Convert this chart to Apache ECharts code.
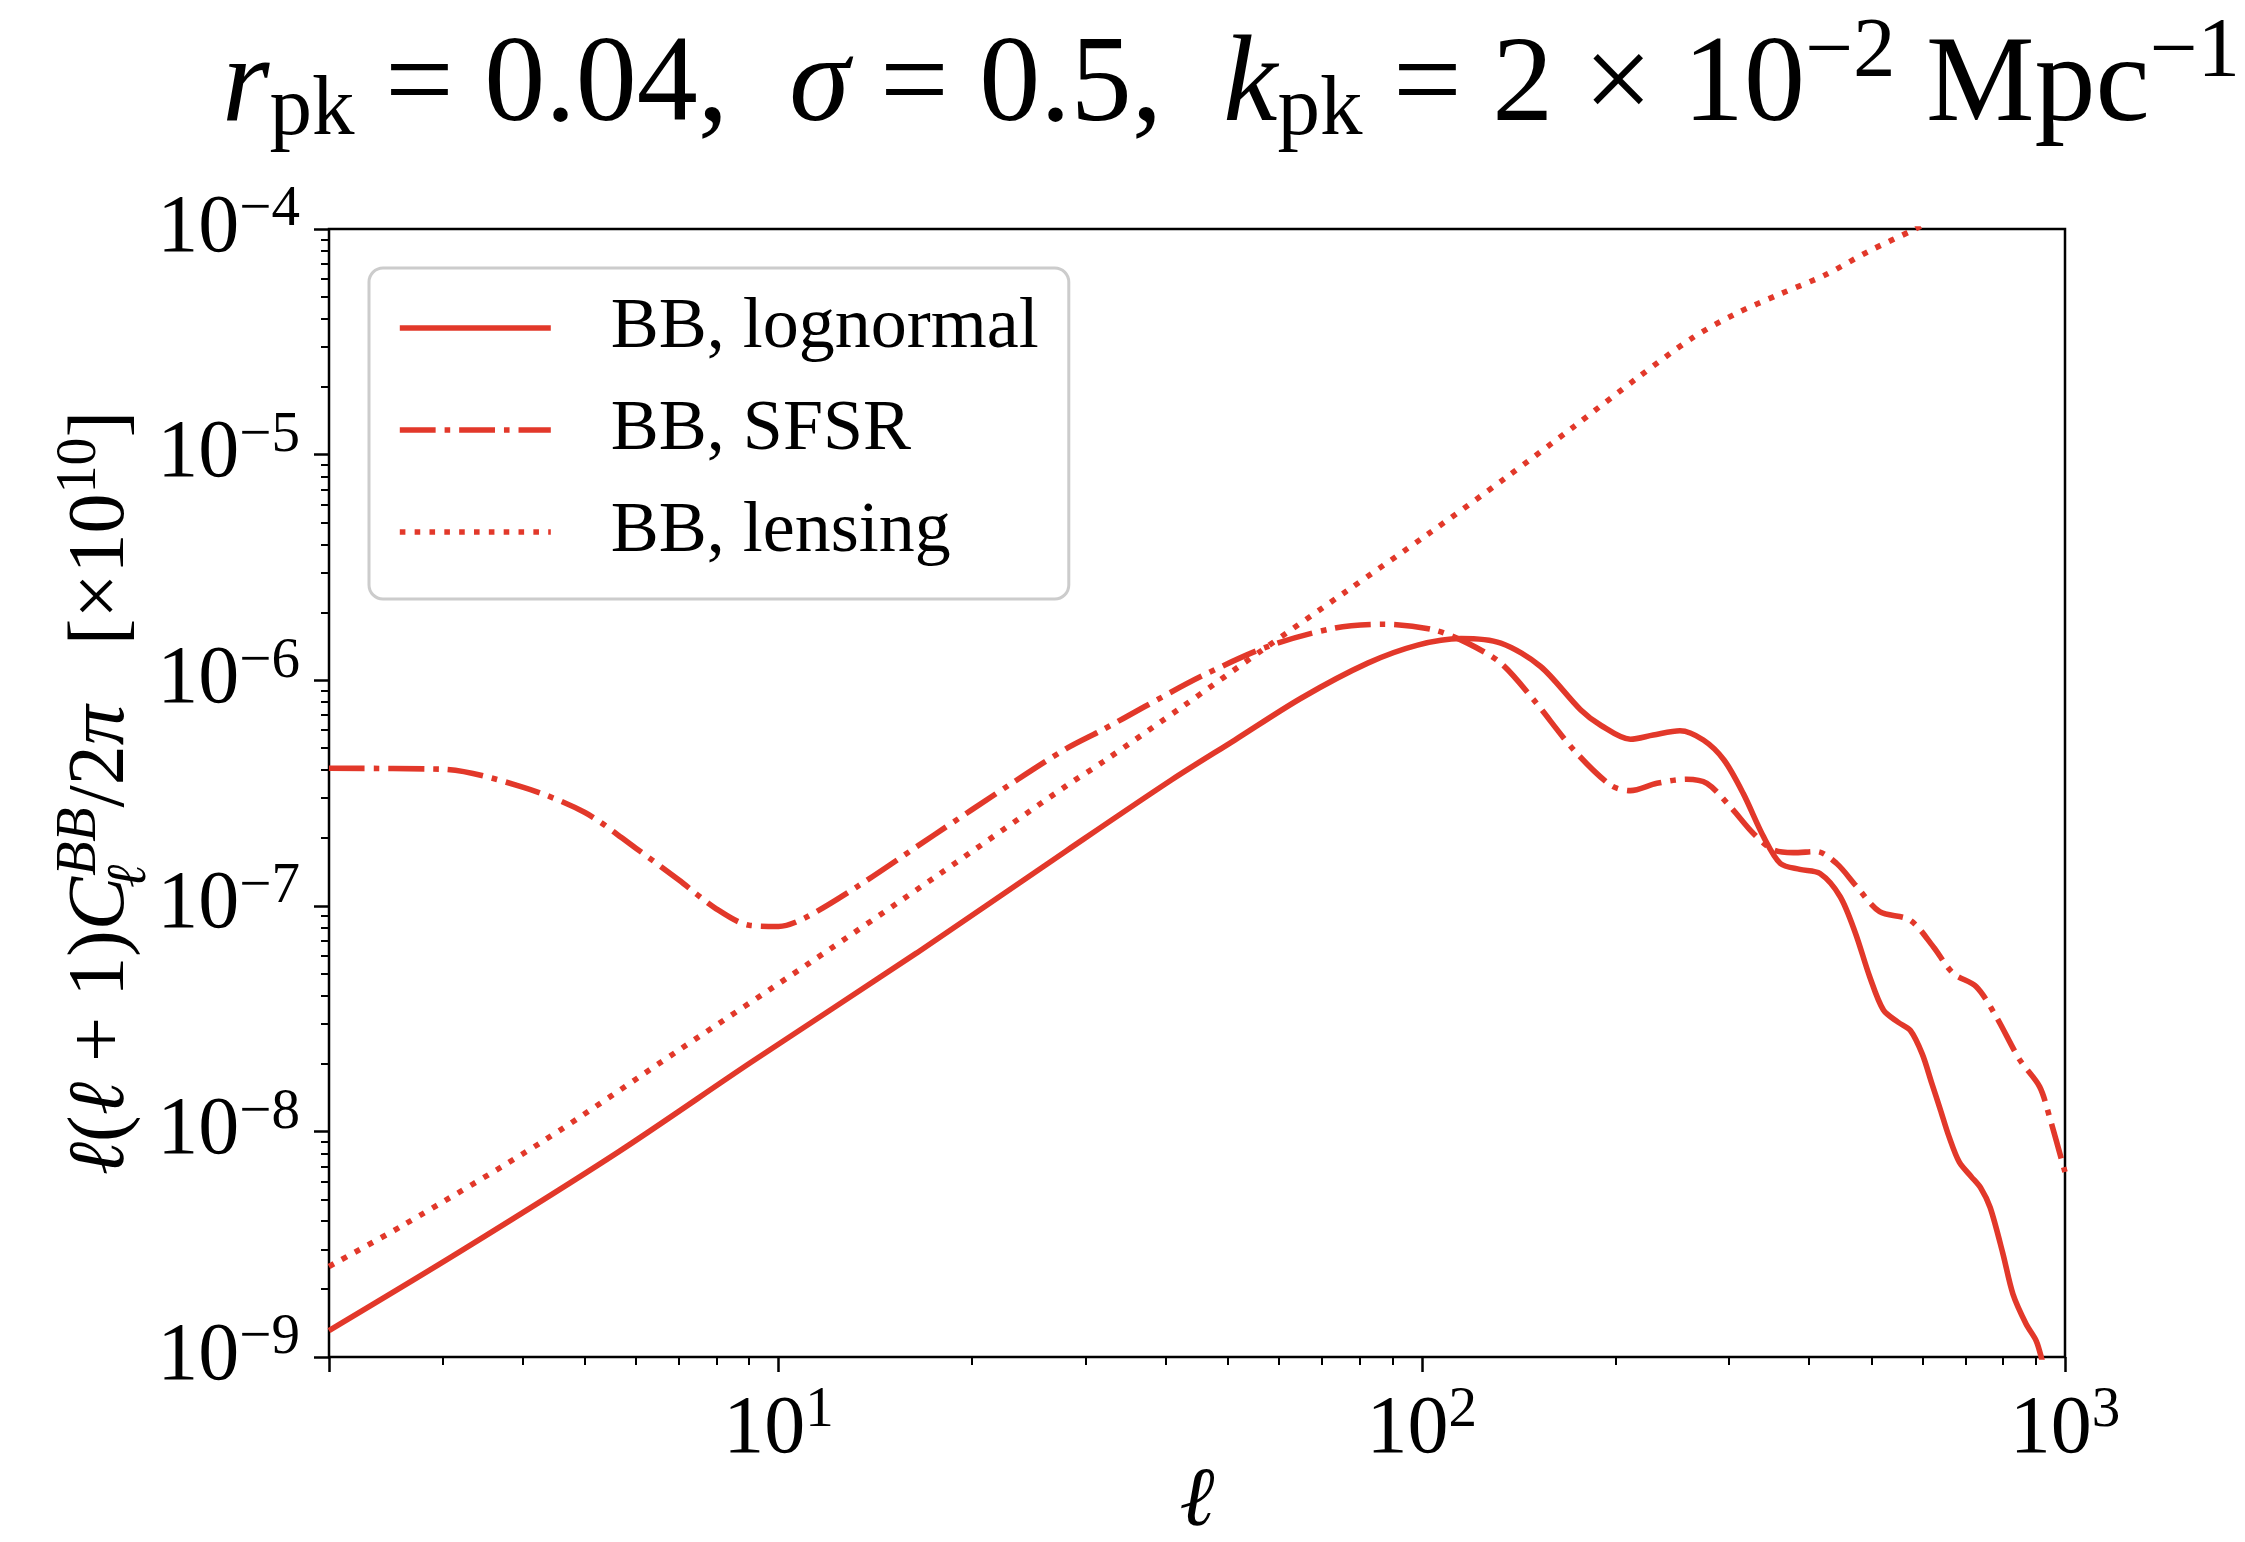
<!DOCTYPE html>
<html>
<head>
<meta charset="utf-8">
<script src="https://cdn.jsdelivr.net/npm/echarts@6/dist/echarts.min.js"></script>
<style>
  html, body { margin: 0; padding: 0; background: #ffffff; }
  #chart { width: 2245px; height: 1542px; }
</style>
</head>
<body>
<div id="chart"></div>
<script>
// B-mode band powers l(l+1)C_l^BB/2pi [x1e10] versus multipole l

const seriesNames = ['BB, lognormal', 'BB, SFSR', 'BB, lensing'];

// lognormal-peaked tensor spectrum
const ellLognormal = [2, 3.2, 5.63, 9.05, 16.4, 28, 40.8, 51.2, 64.9, 82.4, 98.5, 115, 132.7, 153, 176.5,
  190, 211, 229, 252, 274, 295, 316, 340, 361, 387, 416, 447, 472, 497, 522, 550, 575, 600,
  620, 640, 660, 685, 715, 740, 765, 800, 830, 870, 902, 920, 940];
const bbLognormal = [1.31e-9, 2.94e-9, 8.1e-9, 2.02e-8, 6.18e-8, 1.75e-7, 3.61e-7, 5.43e-7, 8.32e-7, 1.19e-6, 1.43e-6, 1.53e-6, 1.46e-6, 1.15e-6, 7.4e-7,
  6.3e-7, 5.47e-7, 5.71e-7, 5.97e-7, 5.43e-7, 4.43e-7, 3.15e-7, 2.02e-7, 1.54e-7, 1.45e-7, 1.39e-7, 1.10e-7, 7.6e-8, 4.85e-8, 3.45e-8, 3.05e-8, 2.8e-8, 2.2e-8,
  1.65e-8, 1.25e-8, 9.5e-9, 7.3e-9, 6.3e-9, 5.6e-9, 4.6e-9, 2.9e-9, 1.9e-9, 1.4e-9, 1.18e-9, 9.8e-10, 7.5e-10];

// SFSR spectrum
const ellSFSR = [2, 3, 4, 5, 6, 7, 8, 9, 10, 11, 13.27, 17.4, 22.9, 28, 31.8, 37.1, 45.4, 57.6, 73.1, 87.4,
  104.5, 117.8, 132.7, 149.4, 172.3, 196.5, 211, 232, 258, 277.5, 301.7, 327.8, 352, 378, 411, 441.6,
  474, 515, 574, 624, 670, 728, 782, 850, 913, 946, 1000];
const bbSFSR = [4.07e-7, 4.03e-7, 3.36e-7, 2.59e-7, 1.8e-7, 1.3e-7, 9.7e-8, 8.2e-8, 8.1e-8, 8.85e-8, 1.22e-7, 2.05e-7, 3.45e-7, 4.97e-7, 6.0e-7, 7.64e-7, 1.04e-6, 1.41e-6, 1.70e-6, 1.77e-6,
  1.67e-6, 1.46e-6, 1.19e-6, 8.16e-7, 4.91e-7, 3.43e-7, 3.24e-7, 3.49e-7, 3.64e-7, 3.49e-7, 2.75e-7, 2.09e-7, 1.77e-7, 1.72e-7, 1.74e-7, 1.54e-7,
  1.22e-7, 9.42e-8, 8.65e-8, 6.59e-8, 5.02e-8, 4.38e-8, 3.22e-8, 2.08e-8, 1.58e-8, 1.16e-8, 6.6e-9];

// lensing B modes
const ellLensing = [2, 2.6, 4.29, 7.01, 11.16, 17.77, 28, 31.96, 42.8, 56.9, 76.2, 102.1, 135.8, 172.3,
  217.4, 263, 307, 360.6, 423.5, 496.2, 580.6, 650];
const bbLensing = [2.52e-9, 3.82e-9, 9.0e-9, 2.30e-8, 5.57e-8, 1.38e-7, 3.4e-7, 4.35e-7, 7.76e-7, 1.38e-6, 2.47e-6, 4.43e-6, 7.98e-6, 1.33e-5,
  2.21e-5, 3.28e-5, 4.2e-5, 5.15e-5, 6.25e-5, 7.99e-5, 9.9e-5, 1.17e-4];

// decades carrying a tick label
const xTickPowers = [1, 2, 3];
const yTickPowers = [-9, -8, -7, -6, -5, -4];

const RED = '#e2382a';
const SERIF = "'Liberation Serif', 'DejaVu Serif', serif";
const MINUS = '\u2212';
const LW = 5.6;

const toPairs = (ells, vals) => ells.map((l, i) => [l, vals[i]]);

function powerLabel(value, powers) {
  const e = Math.round(Math.log10(value));
  if (Math.abs(value / Math.pow(10, e) - 1) > 1e-6 || powers.indexOf(e) < 0) return '';
  const exp = e < 0 ? MINUS + Math.abs(e) : String(e);
  return '{b|10}{sup|' + exp + '}';
}

const tickRich = {
  b: { fontFamily: SERIF, fontSize: 82, lineHeight: 82, color: '#000' },
  sup: { fontFamily: SERIF, fontSize: 57, lineHeight: 57, color: '#000', padding: [0, 0, 37, 0] }
};

const chart = echarts.init(document.getElementById('chart'), null, { renderer: 'canvas' });

const option = {
  backgroundColor: '#ffffff',
  animation: false,
  title: {
    text: '{i|r}{sub|pk}{n| = 0.04,  }{i|σ}{n| = 0.5,  }{i|k}{sub|pk}{n| = 2 × 10}{sup|' + MINUS + '2}{n| Mpc}{sup|' + MINUS + '1}',
    left: 222,
    top: 27,
    padding: 0,
    textStyle: {
      fontFamily: SERIF,
      fontSize: 122,
      fontWeight: 'normal',
      color: '#000',
      rich: {
        n: { fontFamily: SERIF, fontSize: 122, lineHeight: 122, color: '#000' },
        i: { fontFamily: SERIF, fontSize: 122, lineHeight: 122, fontStyle: 'italic', color: '#000' },
        sub: { fontFamily: SERIF, fontSize: 85, lineHeight: 85, color: '#000', padding: [47, 0, 0, 0] },
        sup: { fontFamily: SERIF, fontSize: 85, lineHeight: 85, color: '#000', padding: [0, 0, 69, 0] }
      }
    }
  },
  legend: {
    orient: 'vertical',
    left: 369,
    top: 268,
    data: seriesNames,
    itemWidth: 151,
    itemHeight: 20,
    itemGap: 22,
    padding: [20, 30, 27, 28],
    backgroundColor: 'rgba(255,255,255,0.8)',
    borderColor: '#cccccc',
    borderWidth: 3,
    borderRadius: 14,
    lineStyle: { width: LW },
    itemStyle: { color: 'rgba(0,0,0,0)', borderColor: 'rgba(0,0,0,0)', borderWidth: 0 },
    textStyle: {
      fontFamily: SERIF,
      fontSize: 72,
      lineHeight: 80,
      color: '#000',
      padding: [0, 0, 0, 55]
    }
  },
  grid: {
    left: 329,
    right: 180,
    top: 229,
    bottom: 185,
    containLabel: false,
    outerBoundsMode: 'none',
    show: true,
    borderColor: '#000',
    borderWidth: 2.5,
    backgroundColor: 'transparent'
  },
  xAxis: {
    type: 'log',
    logBase: 10,
    min: 2,
    max: 1000,
    name: 'ℓ',
    nameLocation: 'middle',
    nameGap: 104,
    nameMoveOverlap: false,
    nameTextStyle: { fontFamily: SERIF, fontSize: 84, lineHeight: 84, fontStyle: 'italic', color: '#000' },
    axisLine: { show: false },
    splitLine: { show: false },
    axisTick: { show: true, length: 15, lineStyle: { color: '#000', width: 2.5 } },
    minorTick: { show: true, splitNumber: 9, length: 8, lineStyle: { color: '#000', width: 2 } },
    axisLabel: {
      margin: 32,
      showMinLabel: true,
      showMaxLabel: true,
      hideOverlap: false,
      formatter: v => powerLabel(v, xTickPowers),
      rich: tickRich
    }
  },
  yAxis: {
    type: 'log',
    logBase: 10,
    min: 1e-9,
    max: 1e-4,
    name: '{i|ℓ}{n|(}{i|ℓ}{n| + 1)}{i|C}{sub|ℓ}{sup|BB}{n|/2}{i|π}{n|   [×10}{supn|10}{n|]}',
    nameLocation: 'middle',
    nameRotate: 90,
    nameGap: 187,
    nameMoveOverlap: false,
    nameTextStyle: {
      rich: {
        n: { fontFamily: SERIF, fontSize: 80, lineHeight: 80, color: '#000' },
        i: { fontFamily: SERIF, fontSize: 80, lineHeight: 80, fontStyle: 'italic', color: '#000' },
        sub: { fontFamily: SERIF, fontSize: 56, lineHeight: 56, fontStyle: 'italic', color: '#000', width: 1, padding: [56, 0, 0, 0] },
        sup: { fontFamily: SERIF, fontSize: 56, lineHeight: 56, fontStyle: 'italic', color: '#000', padding: [0, 0, 44, 0] },
        supn: { fontFamily: SERIF, fontSize: 56, lineHeight: 56, color: '#000', padding: [0, 0, 44, 0] }
      }
    },
    axisLine: { show: false },
    splitLine: { show: false },
    axisTick: { show: true, length: 15, lineStyle: { color: '#000', width: 2.5 } },
    minorTick: { show: true, splitNumber: 9, length: 8, lineStyle: { color: '#000', width: 2 } },
    axisLabel: {
      margin: 29,
      showMinLabel: true,
      showMaxLabel: true,
      hideOverlap: false,
      formatter: v => powerLabel(v, yTickPowers),
      rich: tickRich
    }
  },
  series: [
    {
      name: seriesNames[0],
      type: 'line',
      data: toPairs(ellLognormal, bbLognormal),
      symbol: 'none',
      smooth: 0.3,
      clip: true,
      lineStyle: { color: RED, width: LW, type: 'solid', cap: 'butt' },
      itemStyle: { color: RED }
    },
    {
      name: seriesNames[1],
      type: 'line',
      data: toPairs(ellSFSR, bbSFSR),
      symbol: 'none',
      smooth: 0.3,
      clip: true,
      lineStyle: { color: RED, width: LW, type: [6.4 * LW, 1.6 * LW, LW, 1.6 * LW], cap: 'butt' },
      itemStyle: { color: RED }
    },
    {
      name: seriesNames[2],
      type: 'line',
      data: toPairs(ellLensing, bbLensing),
      symbol: 'none',
      smooth: 0.3,
      clip: true,
      lineStyle: { color: RED, width: LW, type: [LW, 1.65 * LW], cap: 'butt' },
      itemStyle: { color: RED }
    }
  ]
};

chart.setOption(option);
</script>
</body>
</html>
